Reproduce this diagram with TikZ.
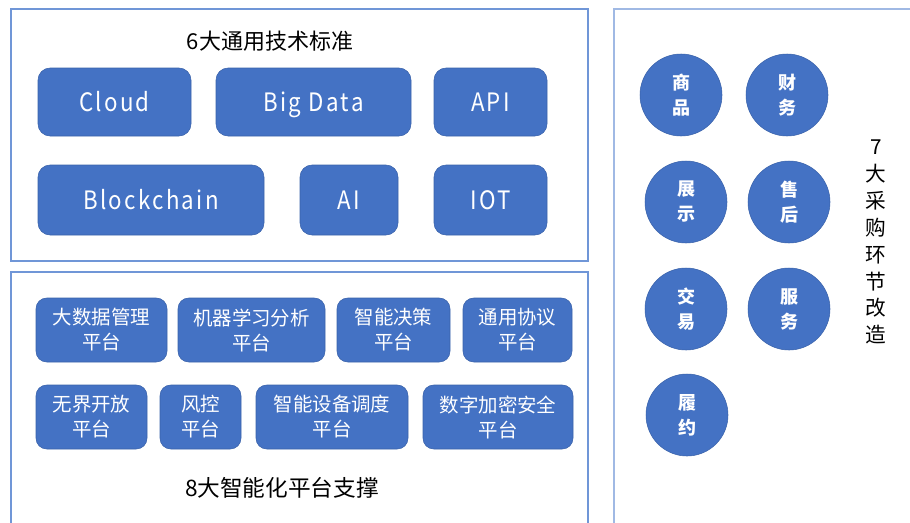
\documentclass[tikz,border=0pt]{standalone}
\usepackage{fontspec}
\setmainfont{Noto Sans CJK SC}
\newfontfamily\cjk{Noto Sans CJK SC}
\newfontfamily\latinbox[FakeStretch=0.88,LetterSpace=9]{Noto Sans CJK SC}
\definecolor{boxblue}{RGB}{68,114,196}
\definecolor{boxedge}{RGB}{58,98,170}
\definecolor{frameblue}{RGB}{112,150,215}
\definecolor{framelight}{RGB}{160,185,228}
\begin{document}
\begin{tikzpicture}[x=0.75pt,y=-0.75pt,
  frame/.style={draw=frameblue,line width=1pt},
  tech/.style={draw=boxedge,fill=boxblue,rounded corners=9pt,text=white,font=\latinbox\fontsize{19}{21}\selectfont,inner sep=0pt,text height=13.9pt,text depth=0pt},
  plat/.style={draw=boxedge,fill=boxblue,rounded corners=8pt,text=white,align=center,minimum height=48pt,font=\cjk\fontsize{14.6}{18.75}\selectfont,inner sep=0pt},
  stage/.style={circle,draw=boxedge,fill=boxblue,text=white,align=center,minimum size=61.5pt,inner sep=0pt,font=\cjk\bfseries\fontsize{13.5}{18.75}\selectfont},
  caption/.style={text=black,font=\cjk\fontsize{16.5}{18}\selectfont}]
\useasboundingbox (0,0) rectangle (910,522);
% frames
\draw[frame] (11,9) rectangle (588,261);
\draw[frame] (11,525) -- (11,272) -- (588,272) -- (588,525);
\draw[draw=framelight,line width=1pt] (614,525) -- (614,9) -- (915,9);
% top section
\node[caption] (t1) at (270,41) {6大通用技术标准};
\node[tech,minimum width=114.75pt,minimum height=51pt] (cloud) at (114.5,102) {Cloud};
\node[tech,minimum width=146.25pt,minimum height=51pt] (bigdata) at (313.5,102) {Big\hspace{0.3em}Data};
\node[tech,minimum width=84.75pt,minimum height=51pt] (api) at (490.5,102) {API};
\node[tech,minimum width=169.5pt,minimum height=52.5pt] (blockchain) at (151,200) {Blockchain};
\node[tech,minimum width=73.5pt,minimum height=52.5pt] (ai) at (349,200) {AI};
\node[tech,minimum width=84.75pt,minimum height=52.5pt] (iot) at (490.5,200) {IOT};
% bottom section
\node[plat,minimum width=98.25pt] (p1) at (101.5,330) {大数据管理\\平台};
\node[plat,minimum width=110.25pt] (p2) at (251.5,330) {机器学习分析\\平台};
\node[plat,minimum width=84.75pt] (p3) at (393.5,330) {智能决策\\平台};
\node[plat,minimum width=81.75pt] (p4) at (517.5,330) {通用协议\\平台};
\node[plat,minimum width=83.25pt] (p5) at (91.5,417) {无界开放\\平台};
\node[plat,minimum width=60.75pt] (p6) at (200.5,417) {风控\\平台};
\node[plat,minimum width=114pt] (p7) at (332,417) {智能设备调度\\平台};
\node[plat,minimum width=112.5pt] (p8) at (498,417) {数字加密安全\\平台};
\node[caption,font=\cjk\fontsize{17}{19}\selectfont] (t2) at (282,488) {8大智能化平台支撑};
% right section
\node[stage] (s1) at (681,95) {商\\品};
\node[stage] (s2) at (787,95) {财\\务};
\node[stage] (s3) at (686,202) {展\\示};
\node[stage] (s4) at (789,202) {售\\后};
\node[stage] (s5) at (686,309) {交\\易};
\node[stage] (s6) at (789,309) {服\\务};
\node[stage] (s7) at (687,415) {履\\约};
\node[caption,align=center,font=\cjk\fontsize{15.5}{20.2}\selectfont] (t3) at (876,242) {7\\大\\采\\购\\环\\节\\改\\造};
\end{tikzpicture}
\end{document}
